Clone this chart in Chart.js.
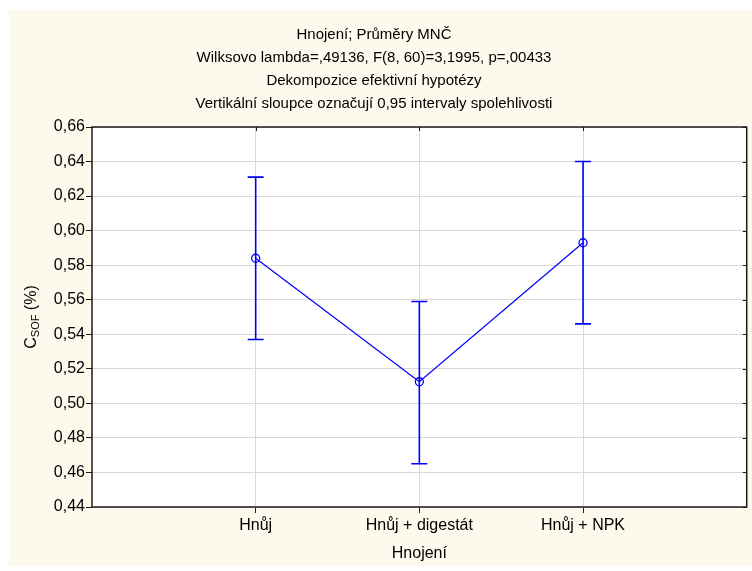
<!DOCTYPE html>
<html lang="cs">
<head>
<meta charset="utf-8">
<title>Hnojení; Průměry MNČ</title>
<script src="https://cdn.jsdelivr.net/npm/chart.js@4/dist/chart.umd.min.js"></script>
<style>
  html, body { margin: 0; padding: 0; background: #ffffff; }
  #wrap { width: 752px; height: 571px; }
</style>
</head>
<body>
<div id="wrap"><canvas id="chart" width="752" height="571"></canvas></div>
<script>
// Fertilisation groups, least-squares means and 0.95 confidence limits
const groups = ['Hnůj', 'Hnůj + digestát', 'Hnůj + NPK'];
const means = [0.584, 0.5125, 0.593];
const ciLow = [0.537, 0.465, 0.546];
const ciHigh = [0.631, 0.559, 0.640];
const yTickValues = [0.44, 0.46, 0.48, 0.50, 0.52, 0.54, 0.56, 0.58, 0.60, 0.62, 0.64, 0.66];
const titleLines = [
  'Hnojení; Průměry MNČ',
  'Wilksovo lambda=,49136, F(8, 60)=3,1995, p=,00433',
  'Dekompozice efektivní hypotézy',
  'Vertikální sloupce označují 0,95 intervaly spolehlivosti'
];
const xTitle = 'Hnojení';

const FONT = "'Liberation Sans', Arial, sans-serif";
const BLUE = '#0000ff';
const CREAM = '#fdf9ed';

const fmt = v => v.toFixed(2).replace('.', ',');

// Panel background and white plot area
const backgroundPlugin = {
  id: 'panelBackground',
  beforeDraw(chart) {
    const { ctx, chartArea: a } = chart;
    ctx.save();
    ctx.fillStyle = '#ffffff';
    ctx.fillRect(0, 0, chart.width, chart.height);
    ctx.fillStyle = CREAM;
    ctx.fillRect(9, 10, chart.width - 9, chart.height - 15);
    ctx.fillStyle = '#ffffff';
    ctx.fillRect(a.left, a.top, a.right - a.left, a.bottom - a.top);
    ctx.restore();
  }
};

// Vertical confidence-interval bars with caps
const errorBarPlugin = {
  id: 'ciBars',
  beforeDatasetsDraw(chart) {
    const { ctx, scales: { x, y } } = chart;
    ctx.save();
    ctx.strokeStyle = BLUE;
    ctx.lineWidth = 1.6;
    groups.forEach((g, i) => {
      const px = x.getPixelForValue(i + 1);
      const lo = y.getPixelForValue(ciLow[i]);
      const hi = y.getPixelForValue(ciHigh[i]);
      ctx.beginPath();
      ctx.moveTo(px, lo); ctx.lineTo(px, hi);
      ctx.moveTo(px - 8, lo); ctx.lineTo(px + 8, lo);
      ctx.moveTo(px - 8, hi); ctx.lineTo(px + 8, hi);
      ctx.stroke();
    });
    ctx.restore();
  }
};

// Plot frame, mirrored inner ticks and the subscripted y-axis title
const framePlugin = {
  id: 'frameAndTitle',
  afterDraw(chart) {
    const { ctx, chartArea: a, scales: { x, y } } = chart;
    ctx.save();
    ctx.strokeStyle = '#1a1a1a';
    ctx.lineWidth = 1.5;
    ctx.strokeRect(a.left, a.top, a.right - a.left, a.bottom - a.top);
    ctx.lineWidth = 1;
    ctx.beginPath();
    groups.forEach((g, i) => {
      const px = Math.round(x.getPixelForValue(i + 1)) + 0.5;
      ctx.moveTo(px, a.top); ctx.lineTo(px, a.top + 4);
    });
    yTickValues.forEach(v => {
      const py = Math.round(y.getPixelForValue(v)) + 0.5;
      ctx.moveTo(a.right, py); ctx.lineTo(a.right - 4, py);
    });
    ctx.stroke();

    // y-axis title: C with subscript SOF, then (%)
    ctx.fillStyle = '#000000';
    ctx.translate(32, (a.top + a.bottom) / 2);
    ctx.rotate(-Math.PI / 2);
    ctx.textBaseline = 'middle';
    ctx.textAlign = 'left';
    const big = '16px ' + FONT, small = '11px ' + FONT;
    ctx.font = big; const wC = ctx.measureText('C').width;
    ctx.font = small; const wS = ctx.measureText('SOF').width;
    ctx.font = big; const wP = ctx.measureText(' (%)').width;
    let cx = -(wC + wS + wP) / 2;
    ctx.font = big; ctx.fillText('C', cx, 0); cx += wC;
    ctx.font = small; ctx.fillText('SOF', cx, 4); cx += wS;
    ctx.font = big; ctx.fillText(' (%)', cx, 0);
    ctx.restore();
  }
};

Chart.defaults.font.family = FONT;
Chart.defaults.color = '#000000';

new Chart(document.getElementById('chart'), {
  type: 'line',
  data: {
    datasets: [{
      data: means.map((m, i) => ({ x: i + 1, y: m })),
      borderColor: BLUE,
      borderWidth: 1.2,
      pointRadius: 4,
      pointHoverRadius: 4,
      pointBorderWidth: 1.3,
      pointBorderColor: BLUE,
      pointBackgroundColor: 'rgba(0,0,0,0)',
      tension: 0,
      fill: false
    }]
  },
  options: {
    responsive: false,
    animation: false,
    events: [],
    layout: { padding: { left: 0, right: 4, top: 0, bottom: 0 } },
    plugins: {
      legend: { display: false },
      tooltip: { enabled: false },
      title: {
        display: true,
        text: titleLines,
        color: '#000000',
        font: { size: 15, weight: 'normal', lineHeight: '23px' },
        padding: { top: 23.5, bottom: 11.5 }
      }
    },
    scales: {
      x: {
        type: 'linear',
        min: 0,
        max: groups.length + 1,
        afterBuildTicks(scale) {
          scale.ticks = groups.map((g, i) => ({ value: i + 1 }));
        },
        afterFit(scale) { scale.height = 64; },
        ticks: {
          font: { size: 16 },
          color: '#000000',
          padding: 3,
          maxRotation: 0,
          autoSkip: false,
          callback: v => groups[v - 1] ?? ''
        },
        grid: { color: '#d9d9d9', lineWidth: 1, tickColor: '#1a1a1a', tickLength: 6 },
        border: { display: false },
        title: {
          display: true,
          text: xTitle,
          font: { size: 16 },
          color: '#000000',
          padding: { top: 0, bottom: 8 }
        }
      },
      y: {
        type: 'linear',
        min: yTickValues[0],
        max: yTickValues[yTickValues.length - 1],
        afterBuildTicks(scale) {
          scale.ticks = yTickValues.map(v => ({ value: v }));
        },
        afterFit(scale) { scale.width = 92; },
        ticks: {
          font: { size: 16 },
          color: '#000000',
          padding: 1,
          callback: v => fmt(v)
        },
        grid: { color: '#d9d9d9', lineWidth: 1, tickColor: '#1a1a1a', tickLength: 6 },
        border: { display: false }
      }
    }
  },
  plugins: [backgroundPlugin, errorBarPlugin, framePlugin]
});
</script>
</body>
</html>
